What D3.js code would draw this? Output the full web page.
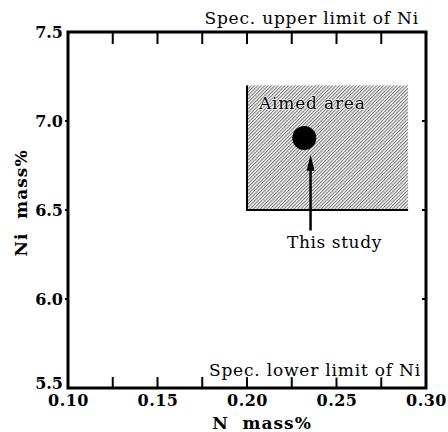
<!DOCTYPE html>
<html><head><meta charset="utf-8">
<script src="https://cdn.jsdelivr.net/npm/d3@7"></script>
<style>body{margin:0;background:#fff}svg{display:block}</style>
</head><body><div id="c"></div>
<script>
const xTicks = [0.10, 0.15, 0.20, 0.25, 0.30];
const xMinorTicks = [0.125, 0.15, 0.175, 0.20, 0.225, 0.25, 0.275];
const yTicks = [5.5, 6.0, 6.5, 7.0, 7.5];
const aimedArea = {x0: 0.20, x1: 0.29, y0: 6.5, y1: 7.2};
const studyPoint = [{n: 0.232, ni: 6.905}];
const specLabels = ["Spec. upper limit of Ni", "Spec. lower limit of Ni"];

const FONT = "'DejaVu Serif', 'Liberation Serif', serif";
const W = 448, H = 432;
const m = {l: 68, r: 22, t: 32, b: 44};
const svg = d3.select("#c").append("svg").attr("width", W).attr("height", H)
  .style("font-family", FONT);
const x = d3.scaleLinear().domain([0.10, 0.30]).range([m.l, W - m.r]);
const y = d3.scaleLinear().domain([5.5, 7.5]).range([H - m.b, m.t]);

const defs = svg.append("defs");
const pat = defs.append("pattern").attr("id", "hatch").attr("patternUnits", "userSpaceOnUse")
  .attr("width", 2.4).attr("height", 4).attr("patternTransform", "rotate(45)");
pat.append("line").attr("x1", 0.6).attr("y1", 0).attr("x2", 0.6).attr("y2", 4)
  .attr("stroke", "#222").attr("stroke-width", 0.75);

// aimed area
svg.append("rect").attr("x", x(aimedArea.x0)).attr("y", y(aimedArea.y1))
  .attr("width", x(aimedArea.x1) - x(aimedArea.x0)).attr("height", y(aimedArea.y0) - y(aimedArea.y1))
  .attr("fill", "url(#hatch)");
svg.append("path").attr("d", `M${x(aimedArea.x0)},${y(aimedArea.y1)}V${y(aimedArea.y0)}H${x(aimedArea.x1)}`)
  .attr("fill", "none").attr("stroke", "#000").attr("stroke-width", 2);

svg.append("text").attr("x", x(0.2365)).attr("y", y(7.067)).attr("text-anchor", "middle")
  .style("font-family", FONT).style("letter-spacing", "0.8px").attr("font-size", 17)
  .attr("stroke", "#fff").attr("stroke-width", 1.2).attr("paint-order", "stroke").text("Aimed area");

// point
svg.selectAll("circle.pt").data(studyPoint).join("circle").attr("class", "pt")
  .attr("cx", d => x(d.n)).attr("cy", d => y(d.ni)).attr("r", 12).attr("fill", "#000");

// arrow
const ax = x(0.2355);
svg.append("line").attr("x1", ax).attr("y1", y(6.385)).attr("x2", ax).attr("y2", y(6.78))
  .attr("stroke", "#000").attr("stroke-width", 2.5);
svg.append("path")
  .attr("d", `M${ax},${y(6.81)}L${ax - 4},${y(6.72)}L${ax + 4},${y(6.72)}Z`).attr("fill", "#000");
svg.append("text").attr("x", 287).attr("y", y(6.285)).attr("text-anchor", "start")
  .style("font-family", FONT).style("letter-spacing", "0.6px").attr("font-size", 17).text("This study");

// frame
svg.append("rect").attr("x", m.l).attr("y", m.t).attr("width", W - m.r - m.l).attr("height", H - m.b - m.t)
  .attr("fill", "none").attr("stroke", "#000").attr("stroke-width", 3);

const tk = svg.append("g").attr("stroke", "#000").attr("stroke-width", 2);
xMinorTicks.forEach(v => {
  tk.append("line").attr("x1", x(v)).attr("x2", x(v)).attr("y1", y(5.5)).attr("y2", y(5.5) - 11);
  tk.append("line").attr("x1", x(v)).attr("x2", x(v)).attr("y1", y(7.5)).attr("y2", y(7.5) + 12);
});
yTicks.slice(1, 4).forEach(v => {
  tk.append("line").attr("x1", x(0.30)).attr("x2", x(0.30) - 4).attr("y1", y(v)).attr("y2", y(v));
  tk.append("line").attr("x1", x(0.10)).attr("x2", x(0.10) - 3).attr("y1", y(v)).attr("y2", y(v));
});

const xa = svg.append("g").attr("transform", `translate(0,${y(5.5)})`)
  .call(d3.axisBottom(x).tickValues(xTicks).tickFormat(d3.format(".2f")).tickSize(0).tickPadding(7));
xa.attr("font-family", null).style("font-family", FONT);
xa.select(".domain").remove();
xa.selectAll("text").style("font-family", FONT).style("letter-spacing", "0.5px")
  .attr("font-size", 16).attr("font-weight", "bold").attr("fill", "#000");

const ya = svg.append("g").attr("transform", `translate(${m.l},0)`)
  .call(d3.axisLeft(y).tickValues(yTicks).tickFormat(d3.format(".1f")).tickSize(0).tickPadding(5));
ya.attr("font-family", null).style("font-family", FONT);
ya.select(".domain").remove();
ya.selectAll("text").style("font-family", FONT).attr("font-size", 16).attr("font-weight", "bold")
  .attr("fill", "#000");
ya.selectAll(".tick").filter(d => d === 5.5).select("text").attr("dy", "0.05em");

svg.append("text").attr("x", 419).attr("y", 24).attr("text-anchor", "end")
  .style("font-family", FONT).style("letter-spacing", "0.8px").attr("font-size", 17).text(specLabels[0]);
svg.append("text").attr("x", 421).attr("y", 376).attr("text-anchor", "end")
  .style("font-family", FONT).style("letter-spacing", "0.8px").attr("font-size", 17)
  .attr("stroke", "#fff").attr("stroke-width", 3).attr("paint-order", "stroke")
  .text(specLabels[1]);

svg.append("text").attr("x", 262).attr("y", 429).attr("text-anchor", "middle")
  .style("font-family", FONT).style("letter-spacing", "1px").attr("font-size", 17).attr("font-weight", "bold")
  .style("white-space", "pre").text("N  mass%");
svg.append("text").attr("transform", `translate(27,203) rotate(-90)`).attr("text-anchor", "middle")
  .style("font-family", FONT).style("letter-spacing", "1px").attr("font-size", 17).attr("font-weight", "bold")
  .style("white-space", "pre").text("Ni  mass%");
</script></body></html>
